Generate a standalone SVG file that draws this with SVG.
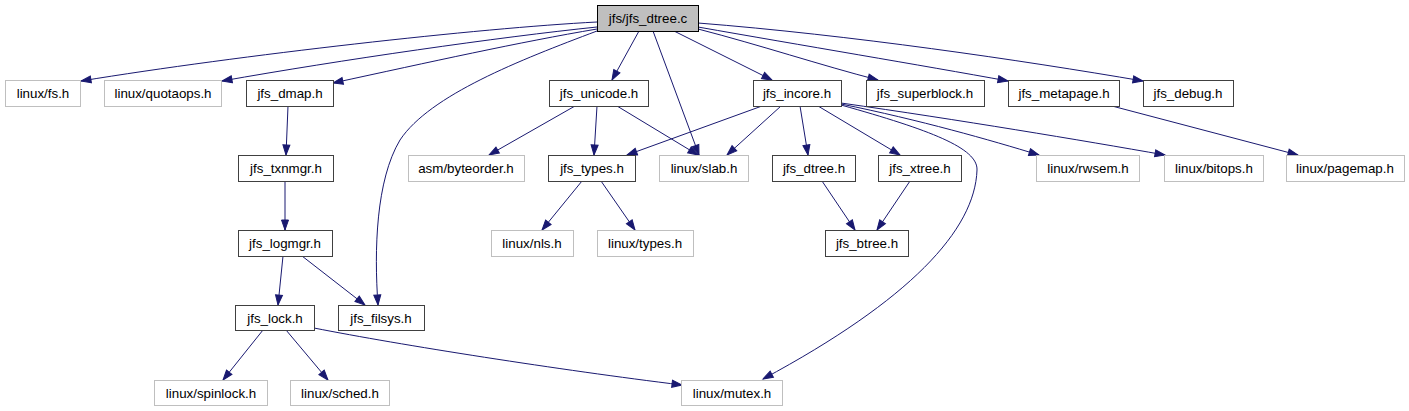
<svg xmlns="http://www.w3.org/2000/svg" width="1409" height="411" viewBox="0 0 1409 411">
<style>
rect{fill:#fff;stroke:#404040;stroke-width:1}
.g rect{stroke:#bfbfbf}
.root rect{fill:#bfbfbf;stroke:#000}
text{font-family:"Liberation Sans",Arial,sans-serif;font-size:13.33px;fill:#000;text-anchor:middle}
#edges path{fill:none;stroke:#191970;stroke-width:1;marker-end:url(#a)}
</style>
<defs>
<marker id="a" markerWidth="11" markerHeight="8" refX="10" refY="3.5" orient="auto" markerUnits="userSpaceOnUse" overflow="visible">
<path d="M0,0 L10,3.5 L0,7 z" fill="#191970" stroke="#191970" stroke-width="1"/>
</marker>
</defs>
<rect x="0" y="0" width="1409" height="411" style="fill:#fff;stroke:none"/>
<g id="edges">
<path d="M597,22 C480,28 240,55 81,81"/>
<path d="M597,27 C500,37 340,60 222,81"/>
<path d="M597,29 C520,42 430,62 333,83"/>
<path d="M597,31 C520,60 430,95 400,140 C376,180 374,250 378,305"/>
<path d="M639,31 L612,80"/>
<path d="M653,31 L699,155"/>
<path d="M674,31 L772,80"/>
<path d="M698,29 C760,45 820,65 878,80"/>
<path d="M698,27 C800,45 920,65 1008,81"/>
<path d="M698,23 C850,35 1020,60 1143,81"/>
<path d="M1112,106 L1298,155"/>
<path d="M288,106 L286,155"/>
<path d="M285,181 L285,230"/>
<path d="M283,256 L278,305"/>
<path d="M302,256 L365,305"/>
<path d="M263,330 L223,380"/>
<path d="M286,330 L328,380"/>
<path d="M314,328 C400,345 560,370 682,385"/>
<path d="M575,106 L489,155"/>
<path d="M597,106 L594,155"/>
<path d="M617,106 L698,155"/>
<path d="M762,106 L627,155"/>
<path d="M781,106 L727,155"/>
<path d="M800,106 L808,155"/>
<path d="M818,106 L900,155"/>
<path d="M841,104 C920,120 990,140 1039,155"/>
<path d="M841,103 C960,120 1080,140 1165,155"/>
<path d="M841,105 C930,130 978,148 977,170 C975,230 910,300 763,379"/>
<path d="M582,181 L542,230"/>
<path d="M601,181 L635,230"/>
<path d="M822,181 L855,230"/>
<path d="M910,181 L877,230"/>
</g>
<g id="n_root" class="root"><rect x="597.5" y="5.5" width="101" height="26"/><text x="648" y="23">jfs/jfs_dtree.c</text></g>
<g id="n_fs" class="g"><rect x="5.5" y="80.5" width="75" height="26"/><text x="43" y="98">linux/fs.h</text></g>
<g id="n_quotaops" class="g"><rect x="104.5" y="80.5" width="117" height="26"/><text x="163" y="98">linux/quotaops.h</text></g>
<g id="n_dmap"><rect x="246.5" y="80.5" width="87" height="26"/><text x="290" y="98">jfs_dmap.h</text></g>
<g id="n_unicode"><rect x="549.5" y="80.5" width="99" height="26"/><text x="599" y="98">jfs_unicode.h</text></g>
<g id="n_incore"><rect x="753.5" y="80.5" width="88" height="26"/><text x="797" y="98">jfs_incore.h</text></g>
<g id="n_superblock"><rect x="866.5" y="80.5" width="118" height="26"/><text x="925" y="98">jfs_superblock.h</text></g>
<g id="n_metapage"><rect x="1008.5" y="80.5" width="111" height="26"/><text x="1064" y="98">jfs_metapage.h</text></g>
<g id="n_debug"><rect x="1143.5" y="80.5" width="90" height="26"/><text x="1188" y="98">jfs_debug.h</text></g>
<g id="n_txnmgr"><rect x="238.5" y="155.5" width="95" height="26"/><text x="286" y="173">jfs_txnmgr.h</text></g>
<g id="n_byteorder" class="g"><rect x="408.5" y="155.5" width="116" height="26"/><text x="466" y="173">asm/byteorder.h</text></g>
<g id="n_types"><rect x="548.5" y="155.5" width="87" height="26"/><text x="592" y="173">jfs_types.h</text></g>
<g id="n_slab" class="g"><rect x="659.5" y="155.5" width="89" height="26"/><text x="704" y="173">linux/slab.h</text></g>
<g id="n_dtreeh"><rect x="772.5" y="155.5" width="83" height="26"/><text x="814" y="173">jfs_dtree.h</text></g>
<g id="n_xtree"><rect x="878.5" y="155.5" width="83" height="26"/><text x="920" y="173">jfs_xtree.h</text></g>
<g id="n_rwsem" class="g"><rect x="1036.5" y="155.5" width="103" height="26"/><text x="1088" y="173">linux/rwsem.h</text></g>
<g id="n_bitops" class="g"><rect x="1164.5" y="155.5" width="99" height="26"/><text x="1214" y="173">linux/bitops.h</text></g>
<g id="n_pagemap" class="g"><rect x="1286.5" y="155.5" width="118" height="26"/><text x="1345" y="173">linux/pagemap.h</text></g>
<g id="n_logmgr"><rect x="238.5" y="230.5" width="94" height="26"/><text x="285" y="248">jfs_logmgr.h</text></g>
<g id="n_nls" class="g"><rect x="491.5" y="230.5" width="82" height="26"/><text x="532" y="248">linux/nls.h</text></g>
<g id="n_ltypes" class="g"><rect x="597.5" y="230.5" width="96" height="26"/><text x="645" y="248">linux/types.h</text></g>
<g id="n_btree"><rect x="825.5" y="230.5" width="83" height="26"/><text x="867" y="248">jfs_btree.h</text></g>
<g id="n_lock"><rect x="235.5" y="305.5" width="79" height="25"/><text x="275" y="323">jfs_lock.h</text></g>
<g id="n_filsys"><rect x="338.5" y="305.5" width="86" height="25"/><text x="381" y="323">jfs_filsys.h</text></g>
<g id="n_spinlock" class="g"><rect x="154.5" y="380.5" width="113" height="25"/><text x="211" y="398">linux/spinlock.h</text></g>
<g id="n_sched" class="g"><rect x="290.5" y="380.5" width="99" height="25"/><text x="340" y="398">linux/sched.h</text></g>
<g id="n_mutex" class="g"><rect x="681.5" y="380.5" width="101" height="25"/><text x="732" y="398">linux/mutex.h</text></g>
</svg>
